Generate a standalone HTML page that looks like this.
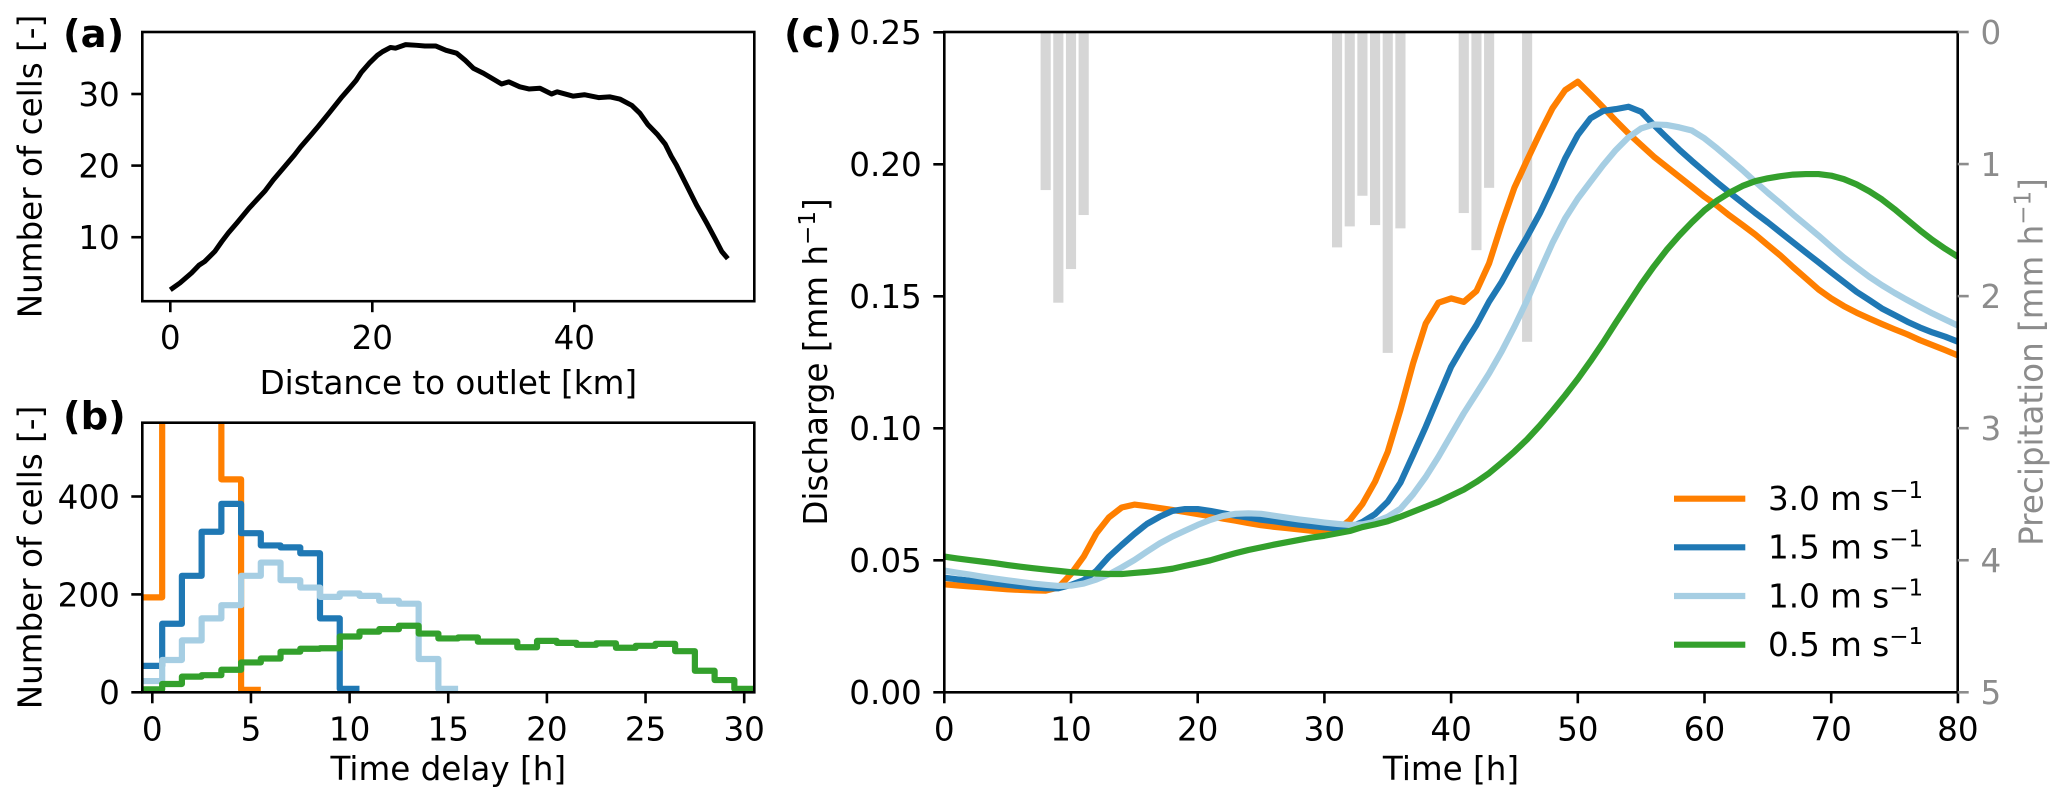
<!DOCTYPE html>
<html lang="en">
<head>
<meta charset="utf-8">
<title>Discharge response for different wave velocities</title>
<style>
html,body{margin:0;padding:0;background:#fff;width:2067px;height:809px;overflow:hidden}
svg{display:block}
text{font-family:"DejaVu Sans","Liberation Sans",sans-serif;font-size:32.6px;fill:#000}
.panel{font-weight:bold;font-size:38.5px}
.gray{fill:#8c8c8c}
.sup{font-size:23px}
</style>
</head>
<body>
<svg id="figure" xmlns="http://www.w3.org/2000/svg" width="2067" height="809" viewBox="0 0 2067 809">
  <defs>
    <clipPath id="clip-a"><rect x="142.3" y="32" width="612" height="269.5"/></clipPath>
    <clipPath id="clip-b"><rect x="142.3" y="422.7" width="612" height="269.6"/></clipPath>
    <clipPath id="clip-c"><rect x="944.3" y="32" width="1013.4" height="660.3"/></clipPath>
  </defs>
  <rect x="0" y="0" width="2067" height="809" fill="#fff"/>

  <g id="panel-a"></g>
  <g id="panel-b"></g>
  <g id="panel-c"></g>

  <text class="panel" x="63" y="47">(a)</text>
  <text class="panel" x="63" y="429">(b)</text>
  <text class="panel" x="784" y="47">(c)</text>

  <text x="448.3" y="394" text-anchor="middle">Distance to outlet [km]</text>
  <text transform="translate(41.5,166.5) rotate(-90)" text-anchor="middle">Number of cells [-]</text>
  <text x="448.3" y="780" text-anchor="middle">Time delay [h]</text>
  <text transform="translate(41.5,557.5) rotate(-90)" text-anchor="middle">Number of cells [-]</text>
  <text x="1451" y="780" text-anchor="middle">Time [h]</text>
  <text transform="translate(827,362) rotate(-90)" text-anchor="middle">Discharge [mm h<tspan class="sup" dy="-12">−1</tspan><tspan dy="12">]</tspan></text>
  <text class="gray" transform="translate(2042.7,362) rotate(-90)" text-anchor="middle">Precipitation [mm h<tspan class="sup gray" dy="-12">−1</tspan><tspan class="gray" dy="12">]</tspan></text>

  <g id="legend">
    <g>
      <line x1="1674" x2="1745.3" y1="498.7" y2="498.7" stroke="#ff7f00" stroke-width="6.2"/>
      <text x="1768" y="510">3.0 m s<tspan class="sup" dy="-12">−1</tspan></text>
    </g>
    <g>
      <line x1="1674" x2="1745.3" y1="547.3" y2="547.3" stroke="#1f78b4" stroke-width="6.2"/>
      <text x="1768" y="558.7">1.5 m s<tspan class="sup" dy="-12">−1</tspan></text>
    </g>
    <g>
      <line x1="1674" x2="1745.3" y1="596" y2="596" stroke="#a6cee3" stroke-width="6.2"/>
      <text x="1768" y="607.4">1.0 m s<tspan class="sup" dy="-12">−1</tspan></text>
    </g>
    <g>
      <line x1="1674" x2="1745.3" y1="644.7" y2="644.7" stroke="#33a02c" stroke-width="6.2"/>
      <text x="1768" y="656.1">0.5 m s<tspan class="sup" dy="-12">−1</tspan></text>
    </g>
  </g>
</svg>

<script>
/* Panel (a) data */
const distanceKm = [0,0.95,2.1,2.85,3.4,4.4,5.1,5.75,6.6,7.8,9.4,10.2,11.4,12.3,12.9,14,14.6,15.7,17,17.8,18.4,18.9,19.7,20.5,21,21.8,22.3,23.3,24.4,25.2,26.3,27.3,28.35,29.2,30,31,32.8,33.5,34.6,35.5,36.6,37.75,38.3,39.9,41,42.4,43.5,44.5,45.7,46.5,47.3,48.2,49,49.6,50.1,51.1,52.1,53.1,53.9,54.6,55.2];
const cellCount = [2.65,3.6,5,6.1,6.6,8,9.4,10.6,12,14.05,16.5,18,20,21.5,22.6,24.4,25.4,27.3,29.6,30.9,31.9,33,34.3,35.4,35.9,36.5,36.4,36.9,36.8,36.7,36.7,36.1,35.7,34.7,33.6,32.9,31.4,31.7,31,30.7,30.8,30,30.3,29.7,29.9,29.5,29.6,29.3,28.4,27.3,25.7,24.4,23,21.3,20.1,17.3,14.5,12,9.9,8,7];
const panelAXTicks = [0,20,40];
const panelAYTicks = [10,20,30];

/* Panel (b) data: cells per integer delay hour, starting at hour 0 */
const delay30 = [194,1100,1600,1200,435,5];
const delay15 = [54,140,238,328,385,325,300,296,284,151,7];
const delay10 = [23,66,106,151,178,238,265,229,214,195,202,197,187,181,68,7];
const delay05 = [6,17,32,35,46,61,69,83,89,90,114,124,129,136,120,110,112,103.5,103.5,92,105,101,97,100,91,95,99,84,44,25,7];
const panelBXTicks = [0,5,10,15,20,25,30];
const panelBYTicks = [0,200,400];

/* Panel (c) data: discharge for each hour 0..80 */
const timeHours = [0,1,2,3,4,5,6,7,8,9,10,11,12,13,14,15,16,17,18,19,20,21,22,23,24,25,26,27,28,29,30,31,32,33,34,35,36,37,38,39,40,41,42,43,44,45,46,47,48,49,50,51,52,53,54,55,56,57,58,59,60,61,62,63,64,65,66,67,68,69,70,71,72,73,74,75,76,77,78,79,80];
const discharge30 = [.0409,.0405,.0401,.0398,.0394,.039,.0388,.0386,.0385,.0397,.0448,.0514,.0602,.0663,.07,.0711,.0705,.0698,.0691,.0683,.0675,.0667,.0658,.065,.0641,.0633,.0627,.0622,.0617,.0612,.0606,.0614,.0652,.0713,.0798,.0911,.107,.1246,.1397,.1476,.1492,.1479,.152,.1625,.1775,.1912,.2016,.2117,.2212,.2281,.2313,.2265,.2216,.2165,.2117,.2073,.2029,.1991,.1953,.1915,.1877,.1843,.1805,.177,.1734,.1694,.1654,.161,.1568,.1526,.1492,.1463,.1438,.1416,.1395,.1375,.1356,.1334,.1315,.1296,.1276];
const discharge15 = [.0434,.0428,.0423,.0418,.0412,.0407,.0402,.0398,.0394,.0394,.0407,.0425,.046,.0514,.0558,.06,.0638,.0665,.0687,.0694,.0694,.0687,.0678,.0669,.0662,.0654,.0648,.0641,.0635,.063,.0625,.0621,.0625,.0645,.0675,.0722,.0794,.0899,.1006,.112,.1233,.1315,.1391,.148,.1555,.1643,.1726,.1814,.1915,.2022,.2111,.2174,.2202,.2209,.2218,.2199,.2149,.2102,.2056,.2013,.1972,.1931,.1892,.1854,.1816,.178,.1742,.1704,.1666,.1629,.1591,.1554,.1517,.1486,.1454,.1429,.1404,.1382,.1363,.1347,.1328];
const discharge10 = [.0461,.0453,.0446,.0438,.0431,.0424,.0418,.0412,.0407,.0403,.0404,.0412,.0427,.0447,.0473,.0501,.0533,.0564,.059,.0612,.0634,.0653,.0668,.0676,.0678,.0676,.0669,.0662,.0655,.0649,.0643,.0638,.0634,.0636,.0646,.0665,.0695,.075,.0816,.0892,.0975,.1057,.1132,.1208,.1292,.1385,.1485,.1595,.1702,.1795,.187,.1934,.1997,.2054,.2102,.2136,.2151,.2149,.214,.2128,.2098,.206,.2019,.1978,.1934,.1892,.1852,.181,.177,.173,.1688,.1647,.161,.1574,.1542,.1513,.1486,.146,.1435,.1412,.1389];
const discharge05 = [.0514,.0507,.0501,.0495,.0489,.0482,.0476,.047,.0465,.046,.0455,.0452,.045,.0448,.0448,.0452,.0456,.0461,.0468,.0479,.0489,.05,.0514,.0527,.0539,.0549,.0559,.0568,.0577,.0586,.0593,.0602,.0611,.0626,.0636,.0648,.0665,.0684,.0703,.0722,.0745,.0768,.0797,.083,.087,.0912,.0958,.101,.1066,.1125,.1187,.1254,.1325,.14,.1473,.1546,.1613,.1675,.173,.178,.1826,.1863,.1893,.1918,.1936,.1947,.1955,.1961,.1963,.1963,.1957,.1944,.1924,.1898,.1867,.183,.179,.175,.1713,.168,.165];
const rainHours = [8,9,10,11,31,32,33,34,35,36,41,42,43,46];
const rainRates = [1.197,2.05,1.795,1.386,1.631,1.472,1.24,1.462,2.43,1.487,1.371,1.652,1.18,2.346];
const panelCXTicks = [0,10,20,30,40,50,60,70,80];
const panelCYTicks = ['0.00','0.05','0.10','0.15','0.20','0.25'];
const panelCRainTicks = [0,1,2,3,4,5];

/* Axis functions */
const NS = 'http://www.w3.org/2000/svg';
const xA = function (v) { return 170.3 + v * 10.1; };
const yA = function (v) { return 94 + (30 - v) * 7.16; };
const xB = function (v) { return 152.3 + v * 19.73; };
const yB = function (v) { return 692.3 - v * 0.4895; };
const xC = function (v) { return 944.3 + v * 12.67; };
const yC = function (v) { return 692.3 - v * 2640; };
const yRain = function (v) { return 32 + v * 132.06; };

function make(tag, parent, attrs) {
  const el = document.createElementNS(NS, tag);
  Object.keys(attrs).forEach(function (k) { el.setAttribute(k, attrs[k]); });
  parent.appendChild(el);
  return el;
}

function tick(parent, x1, y1, x2, y2, color, name) {
  const el = make('line', parent, { x1: x1, y1: y1, x2: x2, y2: y2, stroke: color, 'stroke-width': 2.6 });
  
  
  return el;
}

function label(parent, x, y, anchor, str, name, cls) {
  const el = make('text', parent, { x: x, y: y, 'text-anchor': anchor });
  if (cls) { el.setAttribute('class', cls); }
  el.textContent = str;
  
  
  return el;
}

function frame(parent, l, t, r, b, name) {
  const el = make('rect', parent, { x: l, y: t, width: r - l, height: b - t, fill: 'none', stroke: '#000', 'stroke-width': 2.6 });
  
  
  return el;
}

function xTicks(parent, values, scale, axisY, prefix) {
  values.forEach(function (v) {
    tick(parent, scale(v), axisY, scale(v), axisY + 11, '#000', prefix + '-x-tick-' + v);
    label(parent, scale(v), axisY + 48, 'middle', String(v), prefix + '-x-tick-label-' + v);
  });
}

function yTicks(parent, values, scale, axisX, prefix) {
  values.forEach(function (v) {
    const y = scale(Number(v));
    tick(parent, axisX - 11, y, axisX, y, '#000', prefix + '-y-tick-' + v);
    label(parent, axisX - 22.5, y + 11.9, 'end', String(v), prefix + '-y-tick-label-' + v);
  });
}

function linePath(xs, ys, sx, sy) {
  return xs.map(function (x, i) {
    return (i ? 'L' : 'M') + sx(x).toFixed(2) + ' ' + sy(ys[i]).toFixed(2);
  }).join('');
}

function stepPath(values, sx, sy) {
  let d = 'M' + sx(-0.5).toFixed(2) + ' ' + sy(values[0]).toFixed(2);
  values.forEach(function (v, h) {
    d += 'L' + sx(h - 0.5).toFixed(2) + ' ' + sy(v).toFixed(2);
    d += 'L' + sx(h + 0.5).toFixed(2) + ' ' + sy(v).toFixed(2);
  });
  return d;
}

/* Panel (a) */
const gA = document.getElementById('panel-a');
const pathA = make('path', gA, { d: linePath(distanceKm, cellCount, xA, yA), fill: 'none', stroke: '#000', 'stroke-width': 5, 'stroke-linejoin': 'round', 'clip-path': 'url(#clip-a)' });


frame(gA, 142.3, 32, 754.3, 301.2, 'panel-a-frame');
xTicks(gA, panelAXTicks, xA, 301.2, 'panel-a');
yTicks(gA, panelAYTicks, yA, 142.3, 'panel-a');

/* Panel (b) */
const gB = document.getElementById('panel-b');
const step30 = make('path', gB, { d: stepPath(delay30, xB, yB), fill: 'none', stroke: '#ff7f00', 'stroke-width': 6.2, 'stroke-linejoin': 'round', 'clip-path': 'url(#clip-b)' });


const step15 = make('path', gB, { d: stepPath(delay15, xB, yB), fill: 'none', stroke: '#1f78b4', 'stroke-width': 6.2, 'stroke-linejoin': 'round', 'clip-path': 'url(#clip-b)' });


const step10 = make('path', gB, { d: stepPath(delay10, xB, yB), fill: 'none', stroke: '#a6cee3', 'stroke-width': 6.2, 'stroke-linejoin': 'round', 'clip-path': 'url(#clip-b)' });


const step05 = make('path', gB, { d: stepPath(delay05, xB, yB), fill: 'none', stroke: '#33a02c', 'stroke-width': 6.2, 'stroke-linejoin': 'round', 'clip-path': 'url(#clip-b)' });


frame(gB, 142.3, 422.7, 754.3, 692.3, 'panel-b-frame');
xTicks(gB, panelBXTicks, xB, 692.3, 'panel-b');
yTicks(gB, panelBYTicks, yB, 142.3, 'panel-b');

/* Panel (c) */
const gC = document.getElementById('panel-c');
rainHours.forEach(function (h, i) {
  const bar = make('rect', gC, { x: xC(h - 0.4), y: yRain(0), width: xC(h + 0.4) - xC(h - 0.4), height: yRain(rainRates[i]) - yRain(0), fill: '#d6d6d6' });
  
  
});
const line30 = make('path', gC, { d: linePath(timeHours, discharge30, xC, yC), fill: 'none', stroke: '#ff7f00', 'stroke-width': 6.2, 'stroke-linejoin': 'round', 'clip-path': 'url(#clip-c)' });


const line15 = make('path', gC, { d: linePath(timeHours, discharge15, xC, yC), fill: 'none', stroke: '#1f78b4', 'stroke-width': 6.2, 'stroke-linejoin': 'round', 'clip-path': 'url(#clip-c)' });


const line10 = make('path', gC, { d: linePath(timeHours, discharge10, xC, yC), fill: 'none', stroke: '#a6cee3', 'stroke-width': 6.2, 'stroke-linejoin': 'round', 'clip-path': 'url(#clip-c)' });


const line05 = make('path', gC, { d: linePath(timeHours, discharge05, xC, yC), fill: 'none', stroke: '#33a02c', 'stroke-width': 6.2, 'stroke-linejoin': 'round', 'clip-path': 'url(#clip-c)' });


frame(gC, 944.3, 32, 1957.7, 692.3, 'panel-c-frame');
xTicks(gC, panelCXTicks, xC, 692.3, 'panel-c');
yTicks(gC, panelCYTicks, yC, 944.3, 'panel-c');
panelCRainTicks.forEach(function (v) {
  tick(gC, 1957.7, yRain(v), 1968.7, yRain(v), '#8c8c8c', 'precipitation-tick-' + v);
  label(gC, 1980.5, yRain(v) + 11.9, 'start', String(v), 'precipitation-tick-label-' + v, 'gray');
});
</script>
</body>
</html>
